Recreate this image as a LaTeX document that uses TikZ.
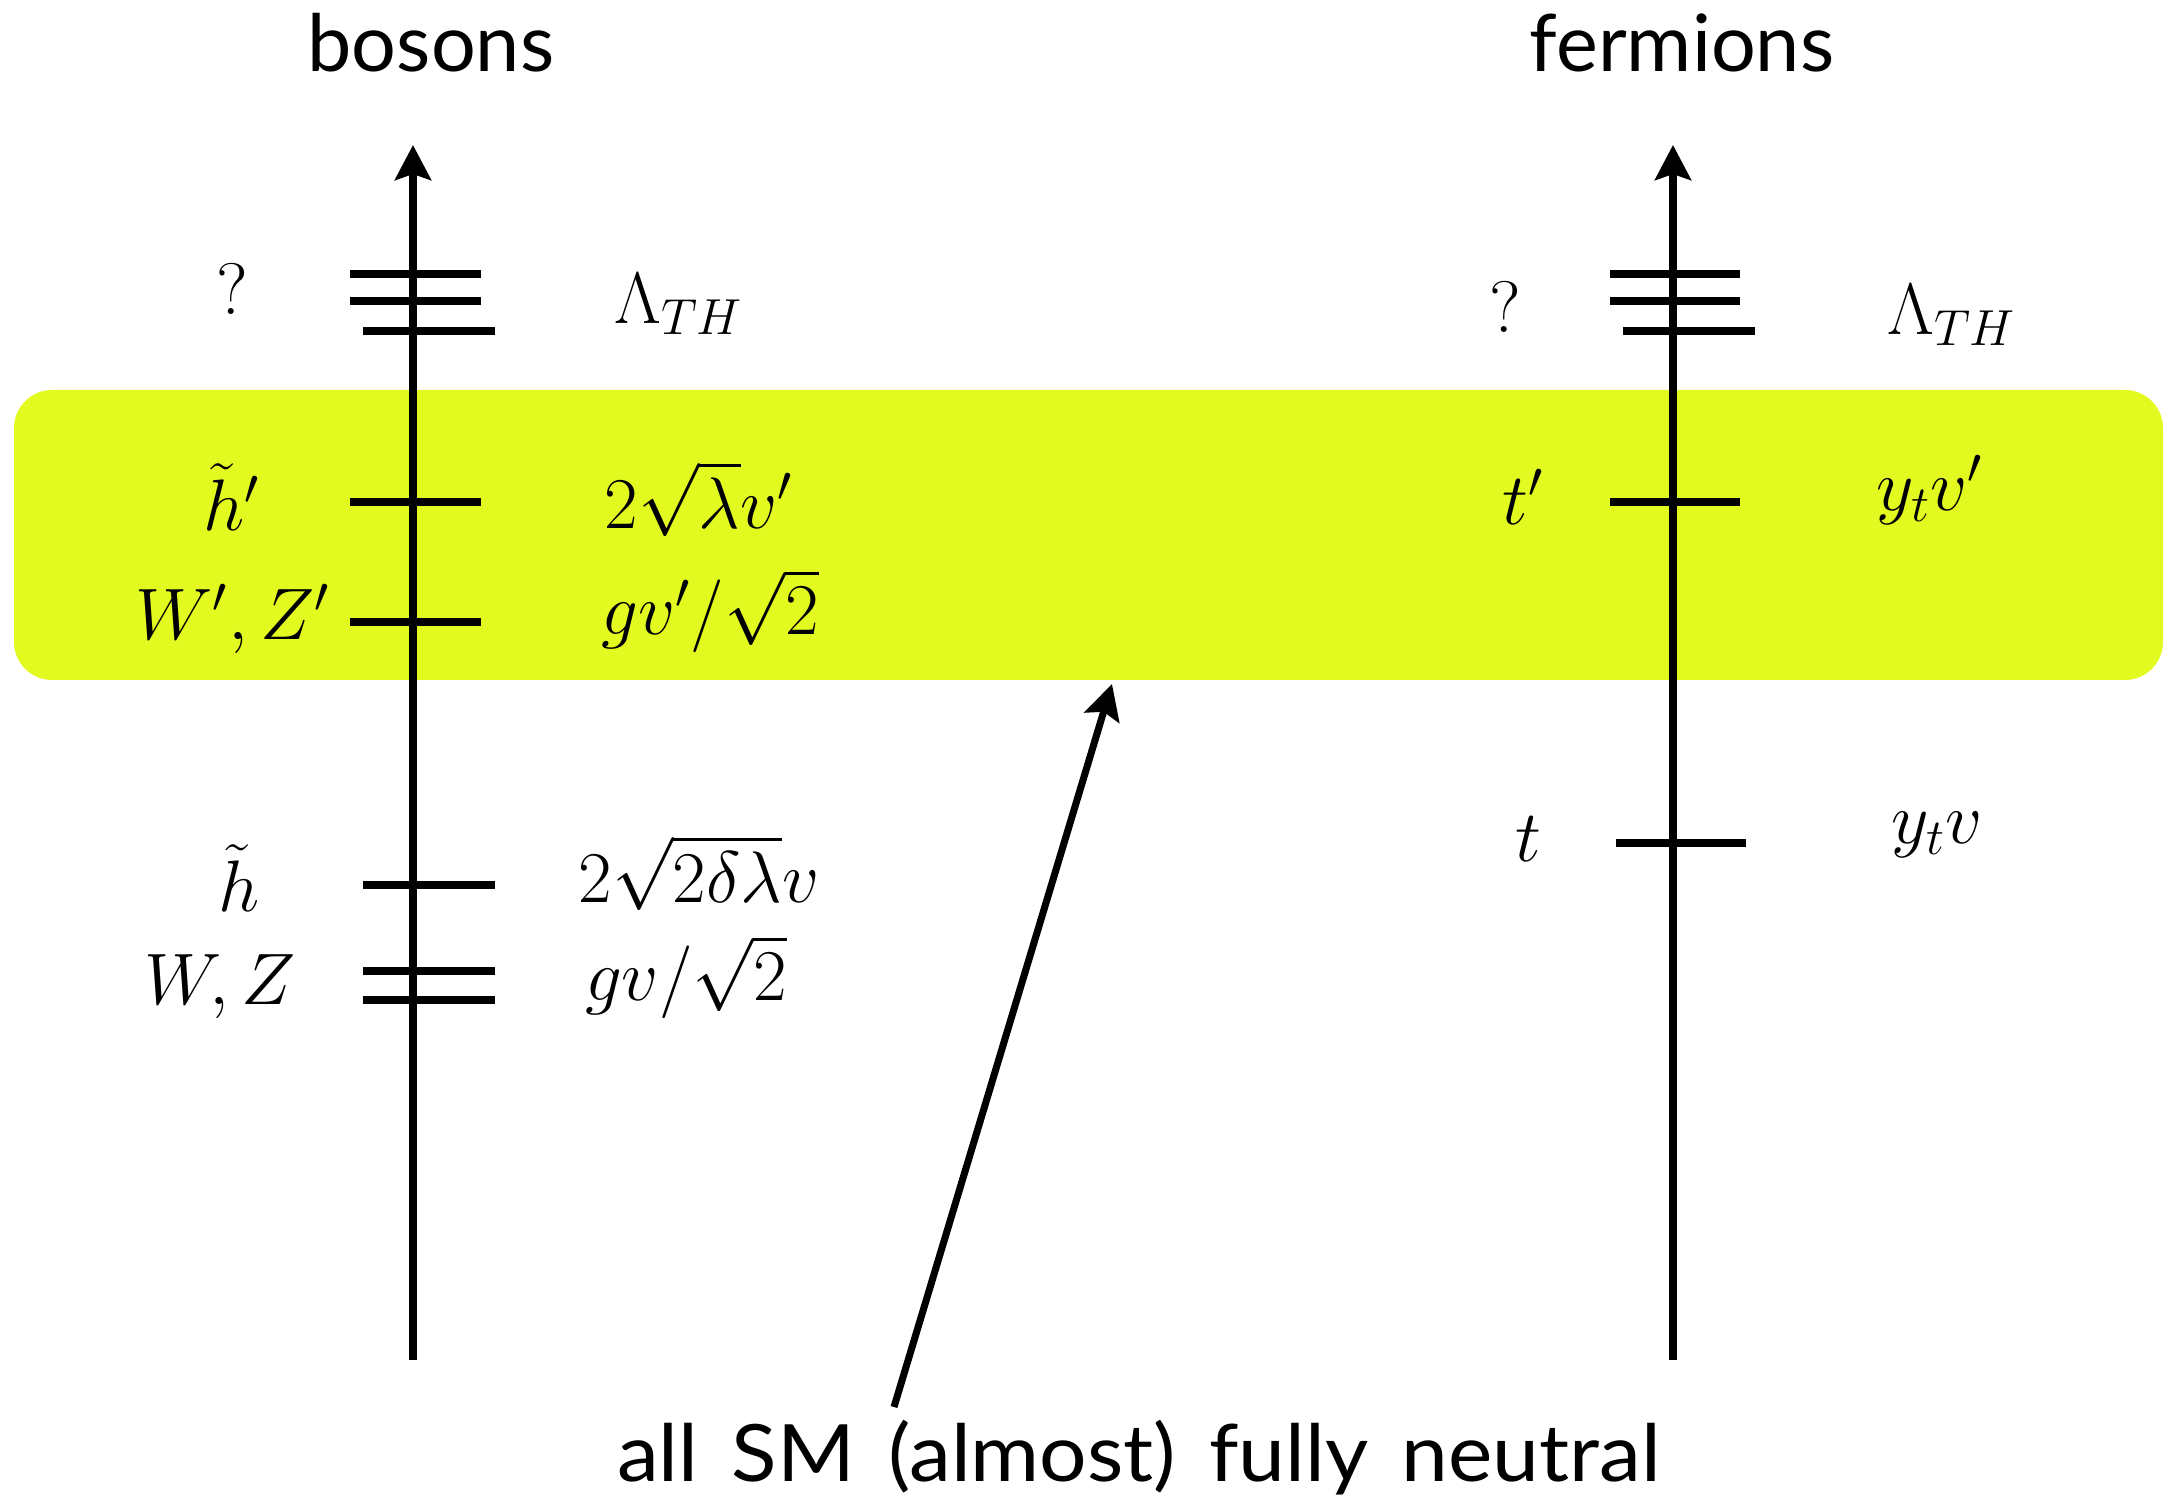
\documentclass[tikz,border=0pt]{standalone}
\usepackage{fontspec}
\newfontfamily\headfont{Lato}
\newfontfamily\notefont[FakeStretch=1.06,WordSpace=1.55]{Lato}
\usetikzlibrary{arrows.meta}
\definecolor{hl}{RGB}{226,250,31}
\tikzset{
  axisline/.style={line width=2pt,-{Stealth[length=0.35cm,width=0.36cm,inset=0.06cm]}},
  tick/.style={line width=2.3pt},
  lab/.style={inner sep=0pt,font=\fontsize{20}{24}\selectfont},
  head/.style={inner sep=0pt,anchor=base,font=\headfont\fontsize{22.5}{27}\selectfont},
  notestyle/.style={inner sep=0pt,anchor=base,font=\notefont\fontsize{22.5}{27}\selectfont},
  pointer/.style={line width=2pt,-{Stealth[length=0.35cm,width=0.36cm,inset=0.06cm]}}
}
\begin{document}
\begin{tikzpicture}[x=0.01cm,y=-0.01cm]
\useasboundingbox (0,0) rectangle (2165,1498);
% highlight band
\fill[hl,rounded corners=0.38cm] (14,390) rectangle (2163,680);
% axes
\coordinate (LB) at (413,1360);
\coordinate (LT) at (413,145);
\coordinate (RB) at (1673,1360);
\coordinate (RT) at (1673,145);
\draw[axisline] (LB) -- (LT);
\draw[axisline] (RB) -- (RT);
% headers
\node[head] (bos) at (431,72) {bosons};
\node[head] (fer) at (1682,72) {fermions};
% left ticks
\coordinate (l1a) at (350,274); \coordinate (l1b) at (481,274);
\coordinate (l2a) at (350,301); \coordinate (l2b) at (481,301);
\coordinate (l3a) at (363,331); \coordinate (l3b) at (495,331);
\coordinate (l4a) at (350,502); \coordinate (l4b) at (481,502);
\coordinate (l5a) at (350,622); \coordinate (l5b) at (481,622);
\coordinate (l6a) at (363,885); \coordinate (l6b) at (495,885);
\coordinate (l7a) at (363,971); \coordinate (l7b) at (495,971);
\coordinate (l8a) at (363,1000); \coordinate (l8b) at (495,1000);
\foreach \i in {1,...,8} \draw[tick] (l\i a) -- (l\i b);
% right ticks
\coordinate (r1a) at (1610,274); \coordinate (r1b) at (1740,274);
\coordinate (r2a) at (1610,301); \coordinate (r2b) at (1740,301);
\coordinate (r3a) at (1623,331); \coordinate (r3b) at (1755,331);
\coordinate (r4a) at (1610,502); \coordinate (r4b) at (1740,502);
\coordinate (r5a) at (1616,843); \coordinate (r5b) at (1746,843);
\foreach \i in {1,...,5} \draw[tick] (r\i a) -- (r\i b);
% left labels
\node[lab] (lq) at (232,289) {$?$};
\node[lab] (llam) at (679,304) {$\Lambda_{TH}$};
\node[lab] (lhp) at (232,497) {$\tilde h'$};
\node[lab] (lhpm) at (699,499) {$2\sqrt{\lambda}v'$};
\node[lab] (lwzp) at (233,619) {$W',Z'$};
\node[lab] (lwzpm) at (710,611) {$gv'/\sqrt{2}$};
\node[lab] (lh) at (239,878) {$\tilde h$};
\node[lab] (lhm) at (699,873) {$2\sqrt{2\delta\lambda}v$};
\node[lab] (lwz) at (220,987) {$W,Z$};
\node[lab] (lwzm) at (686,977) {$gv/\sqrt{2}$};
% right labels
\node[lab] (rq) at (1505,307) {$?$};
\node[lab] (rlam) at (1952,315) {$\Lambda_{TH}$};
\node[lab] (rtp) at (1523,497) {$t'$};
\node[lab] (rtpm) at (1930,490) {$y_t v'$};
\node[lab] (rt) at (1528,839) {$t$};
\node[lab] (rtm) at (1937,835) {$y_t v$};
% bottom text and pointer
\node[notestyle] (note) at (1139,1482) {all SM (almost) fully neutral};
\coordinate (ptail) at (894,1407);
\coordinate (phead) at (1112,684);
\draw[pointer] (ptail) -- (phead);
\end{tikzpicture}
\end{document}
